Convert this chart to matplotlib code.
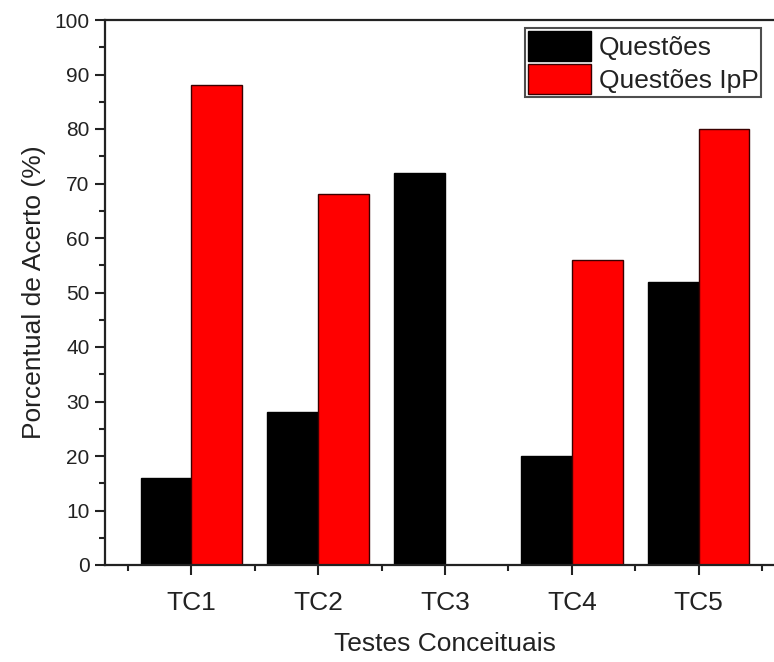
import matplotlib.pyplot as plt
import numpy as np

categories = ["TC1", "TC2", "TC3", "TC4", "TC5"]
questoes = [16, 28, 72, 20, 52]
questoes_ipp = [88, 68, 0, 56, 80]
series_labels = ["Questões", "Questões IpP"]

plt.rcParams.update({
    "font.family": ["Liberation Sans", "DejaVu Sans"],
    "text.color": "#222222",
    "axes.labelcolor": "#222222",
    "xtick.color": "#222222",
    "ytick.color": "#222222",
})

fig = plt.figure(figsize=(7.74, 6.62), dpi=100)
ax = fig.add_axes([105 / 774, 97 / 662, 680 / 774, 545 / 662])

x = np.arange(len(categories))
w = 0.4
ax.bar(x - w / 2, questoes, w, color="black", edgecolor="black", linewidth=1, label=series_labels[0])
ax.bar(x + w / 2, questoes_ipp, w, color="#ff0000", edgecolor="#3a0000", linewidth=1, label=series_labels[1])

ax.set_xlim(-0.68, 4.68)
ax.set_ylim(0, 100)
ax.set_yticks(range(0, 101, 10))
ax.set_yticks(range(5, 100, 10), minor=True)
ax.set_xticks(x)
ax.set_xticklabels(categories)
ax.set_xticks(list(x[:-1] + 0.5) + [-0.5, 4.5], minor=True)

for s in ax.spines.values():
    s.set_linewidth(1.6)
    s.set_color("#222222")

ax.tick_params(axis="y", which="major", direction="out", length=7, width=1.5, labelsize=15, pad=4)
ax.tick_params(axis="y", which="minor", direction="out", length=4, width=1.5)
ax.tick_params(axis="x", which="major", direction="out", length=7, width=1.5, labelsize=19, pad=12)
ax.tick_params(axis="x", which="minor", direction="out", length=4, width=1.5)

ax.set_ylabel("Porcentual de Acerto (%)", fontsize=19, labelpad=6)
ax.set_xlabel("Testes Conceituais", fontsize=19, labelpad=12)

leg = ax.legend(loc="upper left", bbox_to_anchor=(525 / 774, 634 / 662), bbox_transform=fig.transFigure,
                fontsize=19, frameon=True, fancybox=False, edgecolor="#222222",
                handlelength=2.4, handleheight=1.4, handletextpad=0.3, labelspacing=0.1,
                borderpad=0.1, borderaxespad=0)
leg.get_frame().set_linewidth(1.5)

fig.savefig("out.png", dpi=100)
